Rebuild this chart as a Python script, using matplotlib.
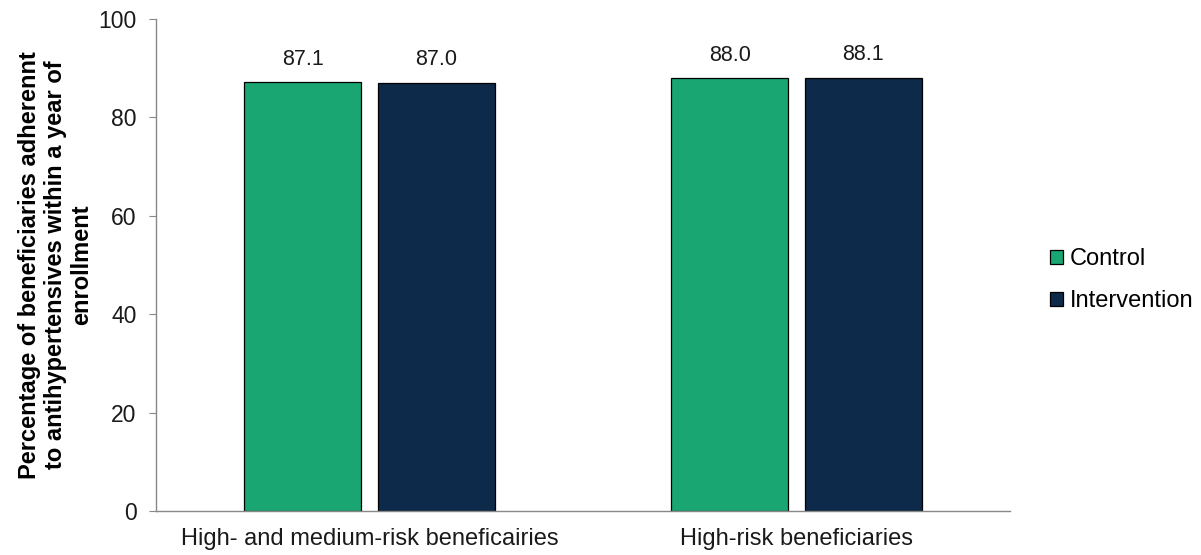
import matplotlib.pyplot as plt
import numpy as np

plt.rcParams['font.family'] = ['Liberation Sans', 'DejaVu Sans']

categories = ["High- and medium-risk beneficairies", "High-risk beneficiaries"]
series = ["Control", "Intervention"]
control = [87.1, 88.0]
intervention = [87.0, 88.1]
colors = ["#1aa673", "#0e2a4a"]

W, H = 1201, 555
fig = plt.figure(figsize=(W / 100, H / 100), dpi=100)
ax = fig.add_axes([156 / W, 1 - 511 / H, (1010 - 156) / W, (511 - 19) / H])

x = np.arange(len(categories))
width = 0.274
offset = 0.156
for vals, col, name, off in zip([control, intervention], colors, series, [-offset, offset]):
    bars = ax.bar(x + off, vals, width, color=col, edgecolor="black", linewidth=0.9, label=name)
    for b, v in zip(bars, vals):
        ax.annotate(f"{v:.1f}", (b.get_x() + b.get_width() / 2, v), xytext=(0, 9),
                    textcoords="offset points", ha="center", va="bottom", fontsize=15.5, color="#1a1a1a")

ax.set_xlim(-0.5, 1.5)
ax.set_ylim(0, 100)
ax.set_yticks([0, 20, 40, 60, 80, 100])
ax.set_xticks(x)
ax.set_xticklabels(categories, fontsize=17)
ax.tick_params(axis="y", labelsize=16.5, length=5, color="#888888", pad=9, labelcolor="#1a1a1a")
ax.tick_params(axis="x", length=0, pad=12, labelcolor="#1a1a1a")
for s in ["top", "right"]:
    ax.spines[s].set_visible(False)
for s in ["left", "bottom"]:
    ax.spines[s].set_color("#888888")
    ax.spines[s].set_linewidth(1.0)

ax.set_ylabel("Percentage of beneficiaries adherennt\nto antihypertensives within a year of\nenrollment",
              fontsize=17, fontweight="bold", labelpad=4, linespacing=1.15)

fig.legend(loc="center left", bbox_to_anchor=(1050 / W, 1 - 280 / H), frameon=False, fontsize=17,
           handlelength=0.55, handleheight=0.55, handletextpad=0.3, labelspacing=0.85,
           borderpad=0, borderaxespad=0)

fig.savefig("out.png", dpi=100)
